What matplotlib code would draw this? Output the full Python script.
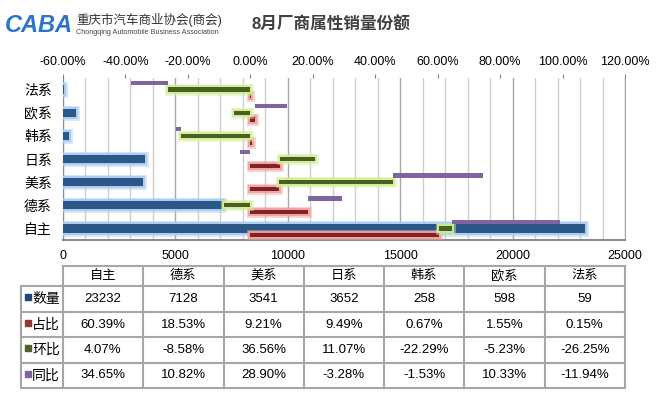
import numpy as np
import matplotlib.pyplot as plt
import matplotlib.patheffects as pe
from matplotlib.patches import Rectangle

plt.rcParams['font.family'] = ['Liberation Sans', 'Noto Sans CJK SC', 'DejaVu Sans']

cats = ['自主', '德系', '美系', '日系', '韩系', '欧系', '法系']
volume = [23232, 7128, 3541, 3652, 258, 598, 59]
share = [60.39, 18.53, 9.21, 9.49, 0.67, 1.55, 0.15]   # 占比 %
mom = [4.07, -8.58, 36.56, 11.07, -22.29, -5.23, -26.25]  # 环比 %
yoy = [34.65, 10.82, 28.90, -3.28, -1.53, 10.33, -11.94]  # 同比 %
row_names = ['数量', '占比', '环比', '同比']

W, H = 666, 397
fig = plt.figure(figsize=(6.66, 3.97), dpi=100)


def rect(l, t, r, b):
    return [l / W, 1 - b / H, (r - l) / W, (b - t) / H]


def glow(color):
    # soft halo round a bar, a bit like Excel's glow effect
    return [pe.Stroke(linewidth=5, foreground=color, alpha=0.45),
            pe.Stroke(linewidth=3, foreground=color, alpha=0.9),
            pe.Normal()]


ax = fig.add_axes(rect(63, 78, 625, 240))
y = np.arange(len(cats))
ax.barh(y, volume, height=0.36, color='#2c5888', zorder=3,
        path_effects=glow('#a9cbf2'))
ax.set_xlim(0, 25000)
ax.set_ylim(-0.5, 6.5)
ax.set_xticks(np.arange(0, 25001, 5000))
ax.set_xticks(np.arange(0, 25001, 1000), minor=True)
ax.grid(axis='x', which='minor', color='#cfcfcf', lw=1)
ax.grid(axis='x', which='major', color='#a8a8a8', lw=1)
ax.set_axisbelow(True)
ax.tick_params(axis='x', which='both', length=0, pad=7, labelsize=9)
ax.set_yticks(y, cats)
ax.tick_params(axis='y', length=0, pad=8, labelsize=10)
ax.spines['top'].set_visible(False)
for s in ['left', 'bottom']:
    ax.spines[s].set_color('#8c8c8c')
ax.spines['bottom'].set_linewidth(1.5)
ax.spines['right'].set_color('#a8a8a8')

# percent series on the secondary (top) axis, stacked like Excel
ax2 = ax.twiny()
ax2.set_xlim(-60, 120)
ticks = np.arange(-60, 121, 20)
ax2.set_xticks(ticks, [f'{t:.2f}%' for t in ticks])
ax2.tick_params(axis='x', length=3, pad=4, labelsize=9, color='#808080')
for s in ax2.spines.values():
    s.set_visible(False)

series = [(share, -0.29, '#7f2424', '#f3a0a0'),
          (mom, 0.0, '#4b5f22', '#d3ee98'),
          (yoy, 0.29, '#8064a2', None)]
pos = np.zeros(len(cats))
neg = np.zeros(len(cats))
for vals, off, c, gc in series:
    vals = np.array(vals)
    left = np.where(vals >= 0, pos, neg)
    ax2.barh(y + off, vals, left=left, height=0.19, color=c,
             path_effects=glow(gc) if gc else None)
    pos += np.where(vals >= 0, vals, 0)
    neg += np.where(vals < 0, vals, 0)

# overlay in pixel coords: logo, title, data table
ov = fig.add_axes([0, 0, 1, 1])
ov.set_xlim(0, W)
ov.set_ylim(H, 0)
ov.axis('off')

ov.text(5, 25, 'CABA', fontsize=17, fontweight='bold', style='italic',
        color='#2a74c9', va='center')
ov.text(76, 20, '重庆市汽车商业协会(商会)', fontsize=9, color='#333333', va='center')
ov.text(76, 33, 'Chongqing Automobile Business Association', fontsize=5.2,
        color='#444444', va='center')
ov.text(331, 25, '8月厂商属性销量份额', fontsize=12, fontweight='bold',
        color='#404040', ha='center', va='center')

col_x = 63 + 80.29 * np.arange(len(cats) + 1)
row_y = [266, 286, 312, 337, 363, 388]
lc = '#a6a6a6'
ov.plot([63, 625], [266, 266], color=lc, lw=1.5)
for yy in row_y[1:]:
    ov.plot([21, 625], [yy, yy], color=lc, lw=1.5)
for xx in col_x:
    ov.plot([xx, xx], [266, 388], color=lc, lw=1.5)
ov.plot([21, 21], [286, 388], color=lc, lw=1.5)

for i, c in enumerate(cats):
    ov.text(col_x[i] + 40, 276, c, fontsize=9.5, ha='center', va='center')

rows = [[str(v) for v in volume],
        [f'{v:.2f}%' for v in share],
        [f'{v:.2f}%' for v in mom],
        [f'{v:.2f}%' for v in yoy]]
key_colors = ['#1f497d', '#953735', '#4f6228', '#8064a2']
for r, (name, vals, kc) in enumerate(zip(row_names, rows, key_colors)):
    cy = (row_y[r + 1] + row_y[r + 2]) / 2
    ov.add_patch(Rectangle((24.5, cy - 5), 6, 6, color=kc))
    ov.text(32, cy, name, fontsize=10, va='center')
    for i, v in enumerate(vals):
        ov.text(col_x[i] + 40, cy, v, fontsize=9.5, ha='center', va='center')

fig.savefig('out.png', dpi=100)
